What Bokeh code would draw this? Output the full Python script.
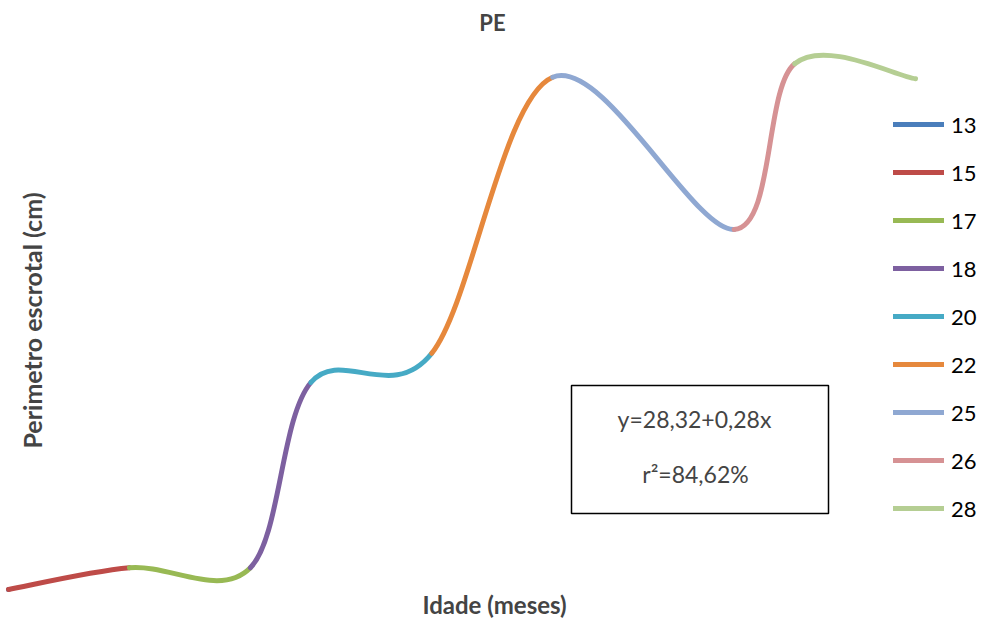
import math
from bokeh.plotting import figure
from bokeh.models import (ColumnDataSource, Legend, LegendItem, Label,
                          BoxAnnotation, Range1d)
from bokeh.embed import file_html
from bokeh.resources import INLINE

# ---- data -------------------------------------------------------------
title_text = "PE"
x_label = "Idade (meses)"
y_label = "Perimetro escrotal (cm)"
series_labels = ["13", "15", "17", "18", "20", "22", "25", "26", "28"]
ages = [13, 15, 17, 18, 20, 22, 25, 26, 28]
pe_cm = [30.80, 31.09, 31.09, 33.56, 33.95, 37.63, 35.60, 37.81, 37.61]
series_colors = ["#4A7EBB", "#BE4B48", "#98B954", "#7D60A0", "#46AAC5",
                 "#E6883C", "#8FA8D2", "#D69294", "#B5CE93"]
equation_text = "y=28,32+0,28x"
r2_text = "r²=84,62%"

FONT = "Lato"
W, H = 981, 620
PX_PER_MONTH = 60.47
X0 = 13 - 8 / PX_PER_MONTH

p = figure(width=W, height=H, output_backend="svg", toolbar_location=None,
           x_range=Range1d(X0, X0 + W / PX_PER_MONTH),
           y_range=Range1d(30.3867, 38.6533),
           x_axis_location=None, y_axis_location=None,
           min_border=0)
p.grid.visible = False
p.outline_line_color = None
p.background_fill_color = "white"

# smoothed (Excel-like) line: cubic Bezier segments with Catmull-Rom tangents
n = len(ages)
tx, ty = [], []
for i in range(n):
    a = max(i - 1, 0)
    b = min(i + 1, n - 1)
    tx.append((ages[b] - ages[a]) / 6.0)
    ty.append((pe_cm[b] - pe_cm[a]) / 6.0)

items = []
for k in range(n):
    i = max(k - 1, 0)
    s = 1 if k > 0 else 0
    src = ColumnDataSource(dict(
        x0=[ages[i]], y0=[pe_cm[i]],
        x1=[ages[k]], y1=[pe_cm[k]],
        cx0=[ages[i] + s * tx[i]], cy0=[pe_cm[i] + s * ty[i]],
        cx1=[ages[k] - s * tx[k]], cy1=[pe_cm[k] - s * ty[k]],
    ))
    r = p.bezier(x0="x0", y0="y0", x1="x1", y1="y1", cx0="cx0", cy0="cy0",
                 cx1="cx1", cy1="cy1", source=src,
                 line_color=series_colors[k], line_width=5, line_cap="round")
    items.append(LegendItem(label=series_labels[k], renderers=[r]))

legend = Legend(items=items, location=(893, 98), padding=0, margin=0,
                glyph_width=51, glyph_height=28, label_height=28, spacing=20,
                label_standoff=7, border_line_color=None,
                background_fill_alpha=0,
                label_text_font=FONT, label_text_font_size="22px",
                label_text_color="black")
p.add_layout(legend)

# titles
p.add_layout(Label(x=492, y=598, x_units="screen", y_units="screen",
                   text=title_text, text_font=FONT, text_font_style="bold",
                   text_font_size="22px", text_align="center",
                   text_baseline="middle"))
p.add_layout(Label(x=494, y=16, x_units="screen", y_units="screen",
                   text=x_label, text_font=FONT, text_font_style="bold",
                   text_font_size="24px", text_align="center",
                   text_baseline="middle"))
p.add_layout(Label(x=31, y=300, x_units="screen", y_units="screen",
                   text=y_label, text_font=FONT, text_font_style="bold",
                   text_font_size="25px", text_align="center",
                   text_baseline="middle", angle=math.pi / 2))

# equation box
p.add_layout(BoxAnnotation(left=571, right=828, top=235, bottom=107,
                           left_units="screen", right_units="screen",
                           top_units="screen", bottom_units="screen",
                           fill_alpha=0, line_color="black", line_alpha=1,
                           line_width=1.5))
p.add_layout(Label(x=694, y=202, x_units="screen", y_units="screen",
                   text=equation_text, text_font=FONT,
                   text_font_size="23px", text_align="center",
                   text_baseline="middle"))
p.add_layout(Label(x=695, y=147, x_units="screen", y_units="screen",
                   text=r2_text, text_font=FONT,
                   text_font_size="23px", text_align="center",
                   text_baseline="middle"))

open("out.html", "w").write(file_html(p, INLINE))
